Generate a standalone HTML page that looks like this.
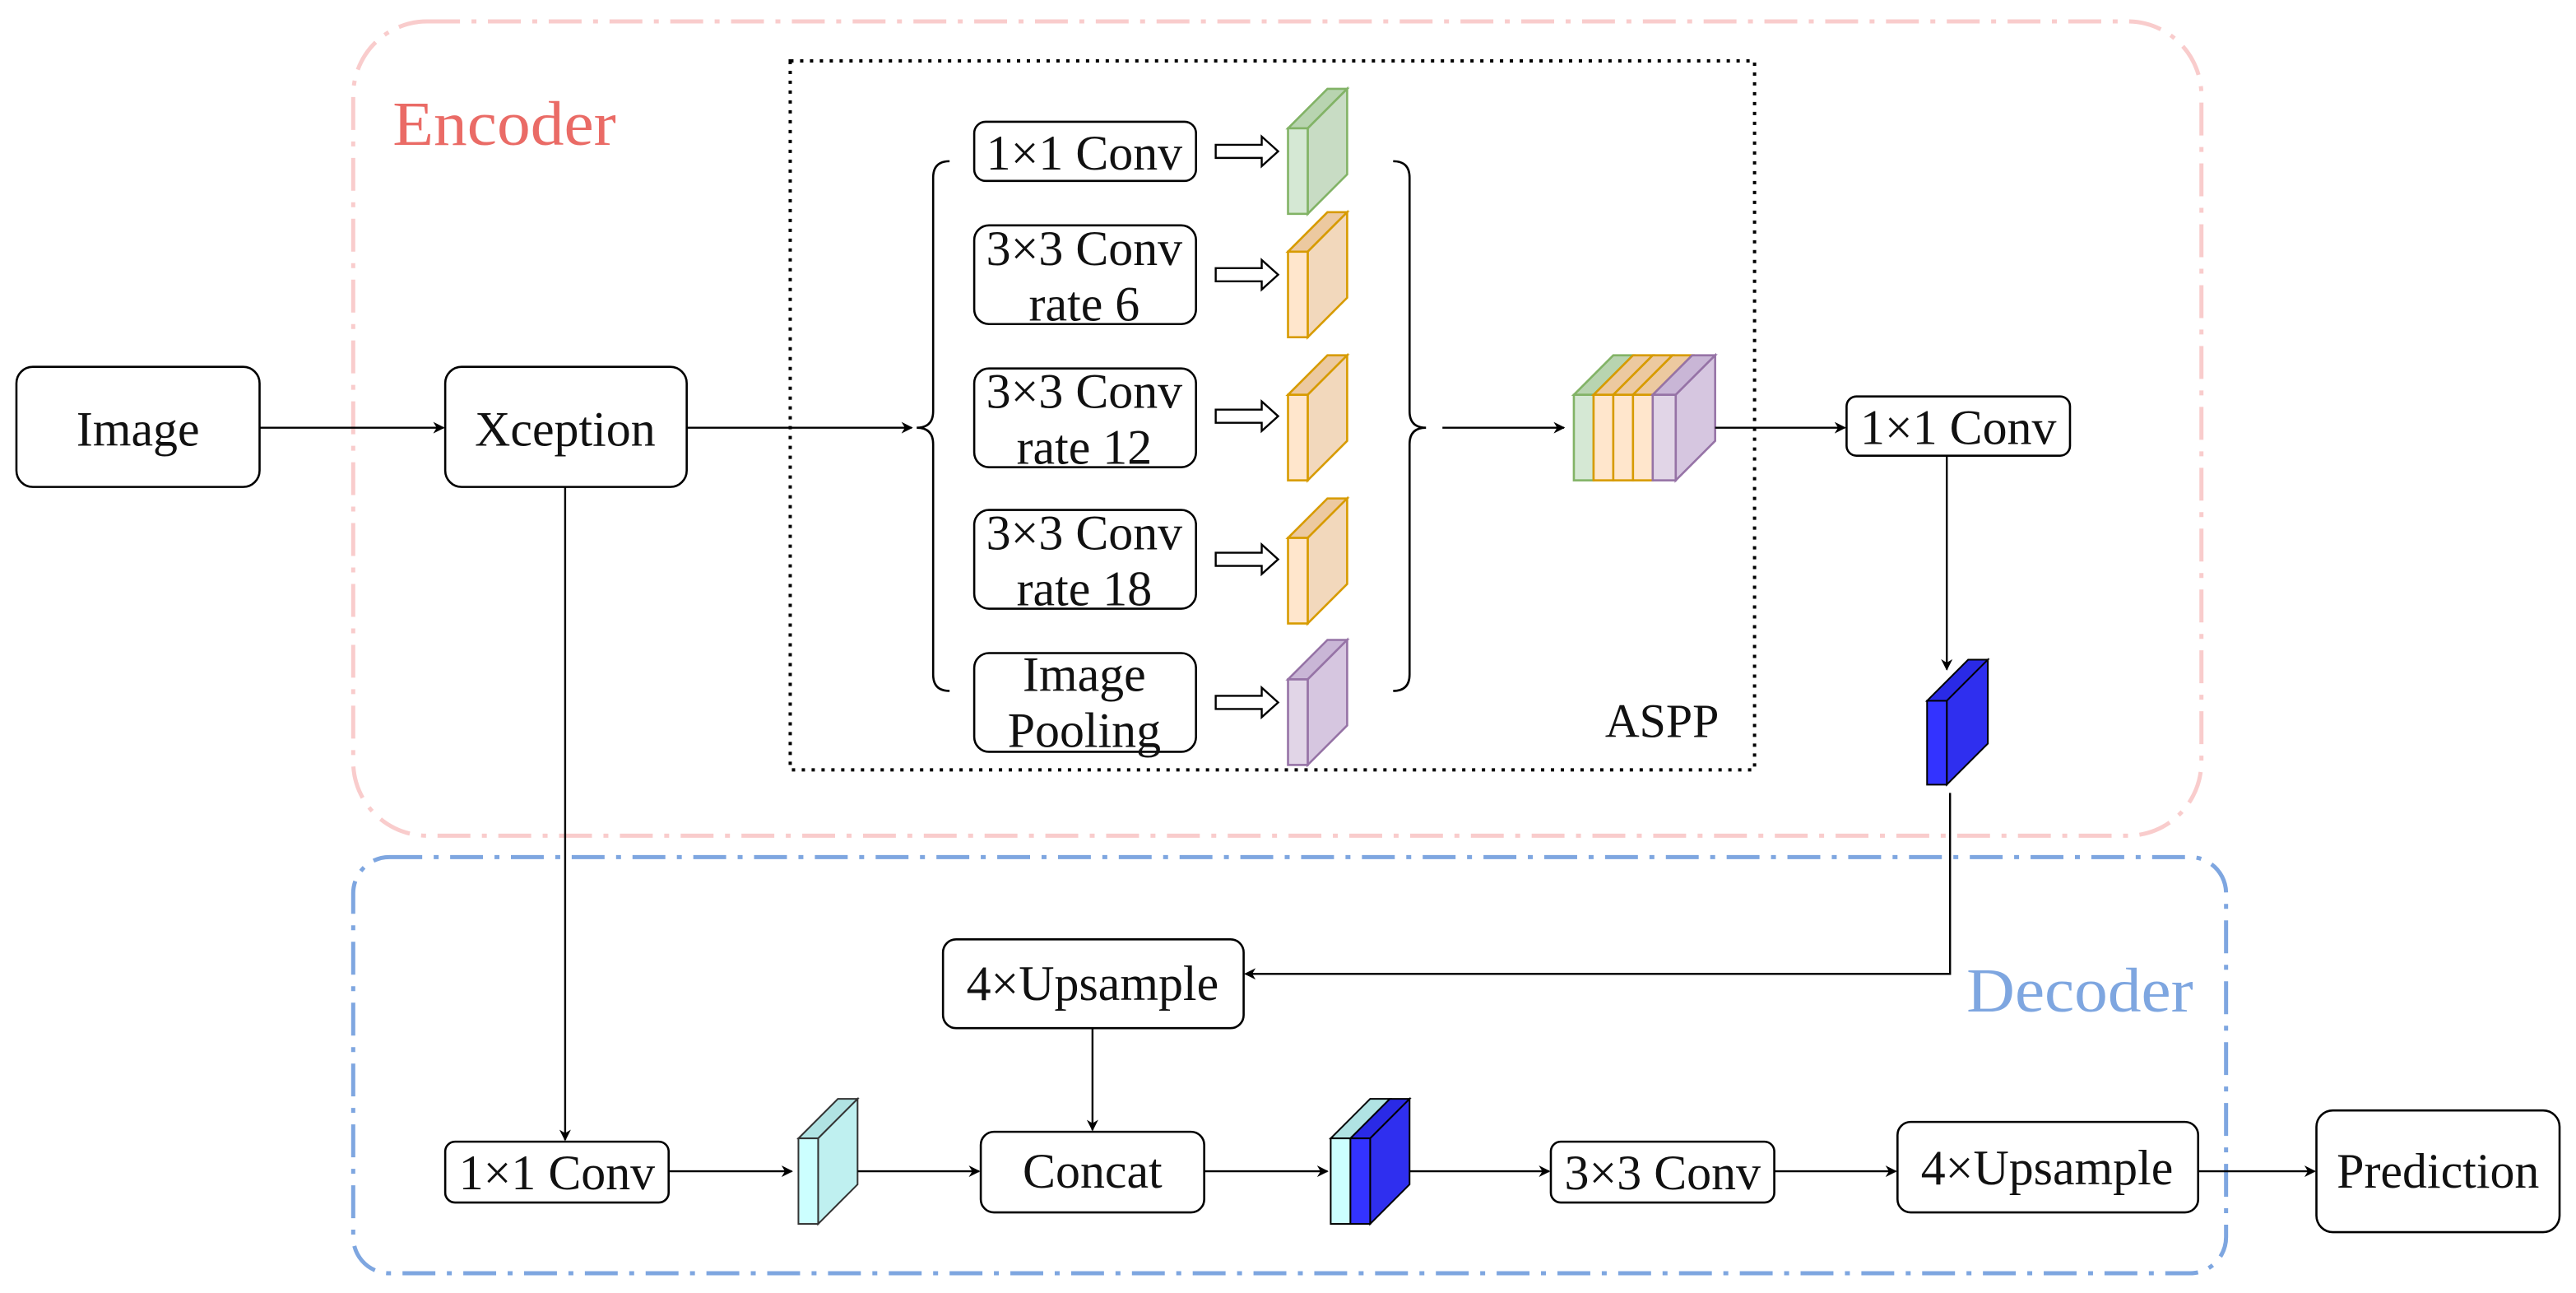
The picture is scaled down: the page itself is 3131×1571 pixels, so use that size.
<!DOCTYPE html>
<html><head><meta charset="utf-8"><style>
html,body{margin:0;padding:0;background:#fff;width:3131px;height:1571px;overflow:hidden}
svg{display:block}
text{font-family:"Liberation Serif",serif;fill:#111}
</style></head><body>
<svg width="3131" height="1571" viewBox="0 0 1568 786" preserveAspectRatio="none" xmlns="http://www.w3.org/2000/svg">
<defs>
<marker id="a" viewBox="0 0 10 10" refX="9" refY="5" markerWidth="7" markerHeight="7" orient="auto" markerUnits="userSpaceOnUse"><path d="M0,0 L10,5 L0,10 L3,5 Z" fill="#000"/></marker>
</defs>
<rect x="215" y="13" width="1125" height="495" rx="45" fill="none" stroke="#f9cccc" stroke-width="2.5" stroke-dasharray="20,7,3,7"/>
<rect x="215" y="521" width="1140" height="253" rx="22" fill="none" stroke="#7ea6e0" stroke-width="2.5" stroke-dasharray="20,7,3,7"/>
<text x="239" y="88" font-size="38" textLength="136" lengthAdjust="spacingAndGlyphs" style="fill:#ea6b66">Encoder</text>
<text x="1197" y="615" font-size="38" textLength="138" lengthAdjust="spacingAndGlyphs" style="fill:#7ea6e0">Decoder</text>
<rect x="481" y="37" width="587" height="431" fill="none" stroke="#000" stroke-width="2" stroke-dasharray="2,4"/>
<text x="977" y="448" font-size="29">ASPP</text>
<g fill="#fff" stroke="#000" stroke-width="1.3">
<rect x="10" y="223" width="148" height="73" rx="10"/>
<rect x="271" y="223" width="147" height="73" rx="10"/>
<rect x="593" y="74" width="135" height="36" rx="7"/>
<rect x="593" y="137" width="135" height="60" rx="9"/>
<rect x="593" y="224" width="135" height="60" rx="9"/>
<rect x="593" y="310" width="135" height="60" rx="9"/>
<rect x="593" y="397" width="135" height="60" rx="9"/>
<rect x="1124" y="241" width="136" height="36" rx="6"/>
<rect x="574" y="571" width="183" height="54" rx="8"/>
<rect x="597" y="688" width="136" height="49" rx="8"/>
<rect x="271" y="694" width="136" height="37" rx="6"/>
<rect x="944" y="694" width="136" height="37" rx="6"/>
<rect x="1155" y="682" width="183" height="55" rx="8"/>
<rect x="1410" y="675" width="148" height="74" rx="10"/>
</g>
<g font-size="30" text-anchor="middle">
<text x="84" y="271">Image</text>
<text x="344" y="271">Xception</text>
<text x="660" y="103">1×1 Conv</text>
<text x="660" y="161">3×3 Conv</text><text x="660" y="195">rate 6</text>
<text x="660" y="248">3×3 Conv</text><text x="660" y="282">rate 12</text>
<text x="660" y="334">3×3 Conv</text><text x="660" y="368">rate 18</text>
<text x="660" y="420">Image</text><text x="660" y="454">Pooling</text>
<text x="1192" y="270">1×1 Conv</text>
<text x="665" y="608">4×Upsample</text>
<text x="665" y="722">Concat</text>
<text x="339" y="723">1×1 Conv</text>
<text x="1012" y="723">3×3 Conv</text>
<text x="1246" y="720">4×Upsample</text>
<text x="1484" y="722">Prediction</text>
</g>
<g fill="none" stroke="#000" stroke-width="1.3">
<path d="M578,98 Q568,98 568,108 L568,250 Q568,260 558,260 Q568,260 568,270 L568,410 Q568,420 578,420"/>
<path d="M848,98 Q858,98 858,108 L858,250 Q858,260 868,260 Q858,260 858,270 L858,410 Q858,420 848,420"/>
</g>
<g fill="#fff" stroke="#000" stroke-width="1.2">
<path d="M740,88 L768,88 L768,83 L778,92 L768,101 L768,96 L740,96 Z"/>
<path d="M740,163 L768,163 L768,158 L778,167 L768,176 L768,171 L740,171 Z"/>
<path d="M740,249 L768,249 L768,244 L778,253 L768,262 L768,257 L740,257 Z"/>
<path d="M740,336 L768,336 L768,331 L778,340 L768,349 L768,344 L740,344 Z"/>
<path d="M740,423 L768,423 L768,418 L778,427 L768,436 L768,431 L740,431 Z"/>
</g>
<g stroke-width="1.3">
<g stroke="#82b366"><path d="M784,78 L808,54 L820,54 L796,78 Z" fill="#b8d4b0"/><path d="M796,78 L820,54 L820,106 L796,130 Z" fill="#c8dcc4"/><rect x="784" y="78" width="12" height="52" fill="#d5e8d4"/></g>
<g stroke="#d79b00"><path d="M784,153 L808,129 L820,129 L796,153 Z" fill="#ecc9a0"/><path d="M796,153 L820,129 L820,181 L796,205 Z" fill="#f2d8bc"/><rect x="784" y="153" width="12" height="52" fill="#ffe6cc"/></g>
<g stroke="#d79b00"><path d="M784,240 L808,216 L820,216 L796,240 Z" fill="#ecc9a0"/><path d="M796,240 L820,216 L820,268 L796,292 Z" fill="#f2d8bc"/><rect x="784" y="240" width="12" height="52" fill="#ffe6cc"/></g>
<g stroke="#d79b00"><path d="M784,327 L808,303 L820,303 L796,327 Z" fill="#ecc9a0"/><path d="M796,327 L820,303 L820,355 L796,379 Z" fill="#f2d8bc"/><rect x="784" y="327" width="12" height="52" fill="#ffe6cc"/></g>
<g stroke="#9673a6"><path d="M784,413 L808,389 L820,389 L796,413 Z" fill="#c9b6d6"/><path d="M796,413 L820,389 L820,441 L796,465 Z" fill="#d6c6e0"/><rect x="784" y="413" width="12" height="52" fill="#e1d5e7"/></g>
</g>
<g stroke-width="1.3">
<g stroke="#82b366"><path d="M958,240 L982,216 L994,216 L970,240 Z" fill="#b8d4b0"/><rect x="958" y="240" width="12" height="52" fill="#d5e8d4"/></g>
<g stroke="#d79b00"><path d="M970,240 L994,216 L1006,216 L982,240 Z" fill="#ecc9a0"/><rect x="970" y="240" width="12" height="52" fill="#ffe6cc"/></g>
<g stroke="#d79b00"><path d="M982,240 L1006,216 L1018,216 L994,240 Z" fill="#ecc9a0"/><rect x="982" y="240" width="12" height="52" fill="#ffe6cc"/></g>
<g stroke="#d79b00"><path d="M994,240 L1018,216 L1030,216 L1006,240 Z" fill="#ecc9a0"/><rect x="994" y="240" width="12" height="52" fill="#ffe6cc"/></g>
<g stroke="#9673a6"><path d="M1006,240 L1030,216 L1044,216 L1020,240 Z" fill="#c9b6d6"/><path d="M1020,240 L1044,216 L1044,268 L1020,292 Z" fill="#d6c6e0"/><rect x="1006" y="240" width="14" height="52" fill="#e1d5e7"/></g>
</g>
<g stroke="#000" stroke-width="1"><path d="M1173,426 L1198,401 L1210,401 L1185,426 Z" fill="#2a2ae6"/><path d="M1185,426 L1210,401 L1210,452 L1185,477 Z" fill="#2f2fef"/><rect x="1173" y="426" width="12" height="51" fill="#3333ff"/></g>
<g stroke="#333" stroke-width="1"><path d="M486,692 L510,668 L522,668 L498,692 Z" fill="#b0e3e3"/><path d="M498,692 L522,668 L522,720 L498,744 Z" fill="#bff0f0"/><rect x="486" y="692" width="12" height="52" fill="#ccffff"/></g>
<g stroke="#000" stroke-width="1"><path d="M810,692 L834,668 L846,668 L822,692 Z" fill="#b0e3e3"/><rect x="810" y="692" width="12" height="52" fill="#ccffff"/><path d="M822,692 L846,668 L858,668 L834,692 Z" fill="#2a2ae6"/><path d="M834,692 L858,668 L858,720 L834,744 Z" fill="#2f2fef"/><rect x="822" y="692" width="12" height="52" fill="#3333ff"/></g>
<g stroke="#000" stroke-width="1.2" fill="none" marker-end="url(#a)">
<path d="M158,260 L270,260"/>
<path d="M418,260 L555,260"/>
<path d="M878,260 L952,260"/>
<path d="M1044,260 L1123,260"/>
<path d="M1185,277 L1185,407"/>
<path d="M1187,482 L1187,592 L758,592"/>
<path d="M665,625 L665,687"/>
<path d="M344,296 L344,693"/>
<path d="M407,712 L482,712"/>
<path d="M522,712 L596,712"/>
<path d="M733,712 L808,712"/>
<path d="M858,712 L943,712"/>
<path d="M1080,712 L1154,712"/>
<path d="M1338,712 L1409,712"/>
</g>
</svg>
</body></html>
